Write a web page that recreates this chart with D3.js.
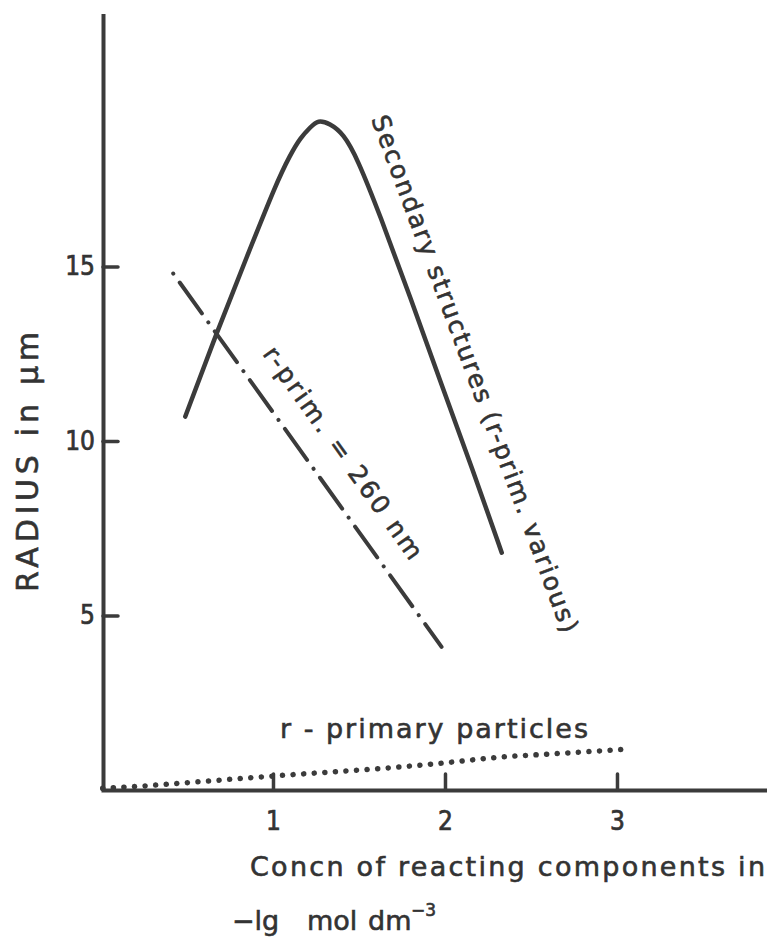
<!DOCTYPE html>
<html>
<head>
<meta charset="utf-8">
<script src="https://cdn.jsdelivr.net/npm/d3@7"></script>
<style>
body { margin: 0; background: #fff; }
svg { display: block; }
.axis .domain { stroke: #3b3b3b; stroke-width: 4; }
.axis .tick line { stroke: #3b3b3b; stroke-width: 3.5; stroke-linecap: round; }
.axis .tick text { fill: #333; stroke: #333; stroke-width: 0.7; font-family: "DejaVu Sans Condensed", "DejaVu Sans", sans-serif; font-size: 26px; }
.lbl { fill: #333; stroke: #333; stroke-width: 0.6; font-family: "DejaVu Sans", sans-serif; }
</style>
</head>
<body>
<script>
// values
// x: concentration (-lg mol dm^-3), y: radius in um
var secX = [0.49, 0.68, 0.85, 1.02, 1.10, 1.16, 1.22, 1.26, 1.33, 1.41, 1.49, 1.62, 1.80, 1.98, 2.16, 2.33];
var secY = [10.7, 13.2, 15.3, 17.4, 18.2, 18.7, 19.0, 19.2, 19.1, 18.8, 18.1, 16.5, 14.1, 11.6, 9.2, 6.8];

// r-prim. = 260 nm (dash-dot)
var primX = [0.42, 1.98];
var primY = [14.8, 4.1];

// r - primary particles (dotted)
var partX = [0.01, 0.17, 0.5, 1.0, 1.23, 1.76, 2.0, 2.32, 2.67, 3.06];
var partY = [0.05, 0.09, 0.21, 0.40, 0.48, 0.67, 0.78, 0.94, 1.05, 1.17];

var xTicks = [1, 2, 3];
var yTicks = [5, 10, 15];

var w = 767, h = 952;
var ink = "#3b3b3b";

// scales, the axes run past the last tick like in the original
var x = d3.scaleLinear().domain([0, 3.878]).range([101, 768]);
var y = d3.scaleLinear().domain([0, 22.25]).range([790, 13.5]);

var svg = d3.select("body").append("svg")
  .attr("width", w)
  .attr("height", h);

// y axis, ticks pointing inside
svg.append("g")
  .attr("class", "axis")
  .attr("transform", "translate(103,0)")
  .call(d3.axisLeft(y).tickValues(yTicks).tickFormat(d3.format("d"))
    .tickSize(-15).tickSizeOuter(0).tickPadding(8));

// x axis
svg.append("g")
  .attr("class", "axis")
  .attr("transform", "translate(0,790)")
  .call(d3.axisBottom(x).tickValues(xTicks).tickFormat(d3.format("d"))
    .tickSize(-16).tickSizeOuter(0).tickPadding(22));

var line = d3.line()
  .x(function(d) { return x(d[0]); })
  .y(function(d) { return y(d[1]); });

// secondary structures - solid curve, smoothed
svg.append("path")
  .datum(d3.zip(secX, secY))
  .attr("fill", "none")
  .attr("stroke", ink)
  .attr("stroke-width", 4.5)
  .attr("stroke-linecap", "round")
  .attr("d", line.curve(d3.curveBasis));

// r-prim = 260 nm - dash dot
svg.append("path")
  .datum(d3.zip(primX, primY))
  .attr("fill", "none")
  .attr("stroke", ink)
  .attr("stroke-width", 4)
  .attr("stroke-linecap", "round")
  .attr("stroke-dasharray", "0.1,11,38,11")
  .attr("d", line.curve(d3.curveLinear));

// primary particles - dotted
svg.append("path")
  .datum(d3.zip(partX, partY))
  .attr("fill", "none")
  .attr("stroke", ink)
  .attr("stroke-width", 5.5)
  .attr("stroke-linecap", "round")
  .attr("stroke-dasharray", "0.1,10.5")
  .attr("d", line.curve(d3.curveMonotoneX));

// labels on the curves
svg.append("text")
  .attr("class", "lbl")
  .attr("transform", "translate(371,119) rotate(69.6)")
  .attr("font-size", 25)
  .attr("textLength", 550)
  .attr("lengthAdjust", "spacing")
  .text("Secondary structures (r-prim. various)");

svg.append("text")
  .attr("class", "lbl")
  .attr("transform", "translate(262,354) rotate(54.5)")
  .attr("font-size", 25)
  .attr("textLength", 255)
  .attr("lengthAdjust", "spacing")
  .text("r-prim. = 260 nm");

svg.append("text")
  .attr("class", "lbl")
  .attr("x", 280)
  .attr("y", 738)
  .attr("font-size", 27)
  .attr("textLength", 308)
  .attr("lengthAdjust", "spacing")
  .text("r - primary  particles");

// axis titles
svg.append("text")
  .attr("class", "lbl")
  .attr("transform", "translate(38,462) rotate(-90)")
  .attr("text-anchor", "middle")
  .attr("font-size", 30)
  .attr("textLength", 260)
  .attr("lengthAdjust", "spacing")
  .text("RADIUS in \u03bcm");

svg.append("text")
  .attr("class", "lbl")
  .attr("x", 250)
  .attr("y", 876)
  .attr("font-size", 27)
  .attr("textLength", 515)
  .attr("lengthAdjust", "spacing")
  .text("Concn of reacting components in");

var unit = svg.append("text")
  .attr("class", "lbl")
  .attr("y", 930)
  .attr("font-size", 27);
unit.append("tspan").attr("x", 232).text("\u2212lg");
unit.append("tspan").attr("x", 307).text("mol");
unit.append("tspan").attr("x", 368).text("dm");
unit.append("tspan").attr("x", 411).attr("dy", -14).attr("font-size", 17).text("\u22123");
</script>
</body>
</html>
